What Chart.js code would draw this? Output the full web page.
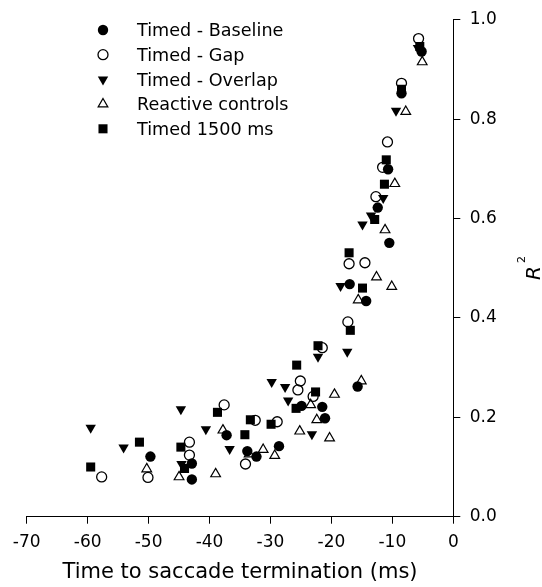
<!DOCTYPE html>
<html>
<head>
<meta charset="utf-8">
<script src="https://cdn.jsdelivr.net/npm/chart.js@4.4.1/dist/chart.umd.min.js"></script>
<style>
html,body{margin:0;padding:0;background:#fff;}
#wrap{width:542px;height:587px;}
</style>
</head>
<body>
<div id="wrap"><canvas id="c" width="542" height="587"></canvas></div>
<script>
// ---- Data ----
const seriesNames = ['Timed - Baseline', 'Timed - Gap', 'Timed - Overlap', 'Reactive controls', 'Timed 1500 ms'];

const baselineX = [-5.2, -8.5, -10.7, -12.4, -10.5, -17.0, -14.3, -15.7, -21.5, -21.05, -24.9, -28.6, -32.3, -33.8, -37.2, -42.9, -42.9, -49.7];
const baselineY = [0.936, 0.852, 0.699, 0.622, 0.551, 0.468, 0.434, 0.262, 0.221, 0.198, 0.223, 0.142, 0.121, 0.132, 0.164, 0.107, 0.075, 0.121];

const gapX = [-5.7, -8.5, -10.8, -11.6, -12.7, -17.1, -14.5, -17.3, -21.5, -25.1, -25.5, -23.0, -28.9, -32.5, -37.6, -34.1, -43.3, -43.3, -50.1, -57.7];
const gapY = [0.962, 0.872, 0.754, 0.703, 0.644, 0.509, 0.511, 0.392, 0.340, 0.273, 0.255, 0.242, 0.191, 0.194, 0.225, 0.106, 0.150, 0.124, 0.079, 0.080];

const overlapX = [-5.8, -9.4, -11.5, -13.5, -14.9, -18.5, -17.4, -22.2, -29.8, -27.6, -27.1, -23.2, -36.7, -40.6, -44.7, -44.6, -54.1, -59.5];
const overlapY = [0.943, 0.817, 0.641, 0.606, 0.588, 0.464, 0.332, 0.322, 0.271, 0.261, 0.234, 0.166, 0.136, 0.176, 0.216, 0.106, 0.139, 0.179];

const reactiveX = [-5.1, -7.8, -9.6, -11.2, -12.6, -10.1, -15.6, -15.1, -19.5, -23.4, -22.4, -25.2, -20.3, -29.3, -31.2, -33.5, -37.8, -39.0, -45.0, -50.3];
const reactiveY = [0.915, 0.815, 0.670, 0.577, 0.482, 0.463, 0.436, 0.273, 0.246, 0.225, 0.195, 0.172, 0.158, 0.123, 0.135, 0.126, 0.174, 0.086, 0.080, 0.096];

const t1500X = [-5.5, -8.5, -11.0, -11.3, -12.9, -17.1, -14.9, -16.9, -22.2, -25.7, -22.6, -25.8, -29.9, -33.3, -34.2, -38.7, -44.7, -44.1, -51.5, -59.5];
const t1500Y = [0.946, 0.860, 0.718, 0.669, 0.598, 0.531, 0.460, 0.375, 0.344, 0.305, 0.251, 0.218, 0.186, 0.195, 0.165, 0.210, 0.140, 0.097, 0.150, 0.100];

const xTicks = [-70, -60, -50, -40, -30, -20, -10, 0];
const yTicks = [0.0, 0.2, 0.4, 0.6, 0.8, 1.0];
const xTitle = 'Time to saccade termination (ms)';

// ---- Build ----
function pts(xs, ys) { return xs.map((x, i) => ({x: x, y: ys[i]})); }

const styles = [
  {pointStyle: 'circle',   radius: 5.2, rotation: 0,   bg: '#000', bw: 0},
  {pointStyle: 'circle',   radius: 5.0, rotation: 0,   bg: 'rgba(0,0,0,0)', bw: 1.3},
  {pointStyle: 'triangle', radius: 6.0, rotation: 180, bg: '#000', bw: 0},
  {pointStyle: 'triangle', radius: 5.6, rotation: 0,   bg: 'rgba(0,0,0,0)', bw: 1.2},
  {pointStyle: 'rect',     radius: 6.4, rotation: 0,   bg: '#000', bw: 0}
];
const seriesData = [pts(baselineX, baselineY), pts(gapX, gapY), pts(overlapX, overlapY), pts(reactiveX, reactiveY), pts(t1500X, t1500Y)];

const datasets = seriesNames.map((name, i) => ({
  label: name,
  data: seriesData[i],
  showLine: false,
  pointStyle: styles[i].pointStyle,
  pointRadius: styles[i].radius,
  pointHoverRadius: styles[i].radius,
  pointRotation: styles[i].rotation,
  pointBackgroundColor: styles[i].bg,
  pointBorderColor: '#000',
  pointBorderWidth: styles[i].bw,
  clip: false
}));

const FONT = 'DejaVu Sans';

function drawMarker(ctx, st, x, y) {
  ctx.save();
  ctx.fillStyle = st.bg;
  ctx.strokeStyle = '#000';
  ctx.lineWidth = st.bw;
  if (Chart.helpers && Chart.helpers.drawPoint) {
    Chart.helpers.drawPoint(ctx, {pointStyle: st.pointStyle, radius: st.radius, rotation: st.rotation, borderWidth: st.bw}, x, y);
  } else {
    ctx.beginPath();
    ctx.arc(x, y, st.radius, 0, Math.PI * 2);
    ctx.fill();
    if (st.bw > 0) ctx.stroke();
  }
  ctx.restore();
}

const extrasPlugin = {
  id: 'extras',
  afterDraw(chart) {
    const ctx = chart.ctx;
    // Legend (inside plot, top-left)
    const mx = 103, tx = 137, y0 = 30, dy = 24.7;
    ctx.save();
    ctx.font = '17.6px "' + FONT + '"';
    ctx.fillStyle = '#000';
    ctx.textAlign = 'left';
    ctx.textBaseline = 'alphabetic';
    seriesNames.forEach((name, i) => {
      const y = y0 + i * dy;
      drawMarker(ctx, styles[i], mx, y);
      ctx.fillStyle = '#000';
      ctx.fillText(name, tx, y + 6.3);
    });
    ctx.restore();
    // Y axis title: italic R with superscript 2, rotated
    ctx.save();
    ctx.translate(540, 280);
    ctx.rotate(-Math.PI / 2);
    ctx.fillStyle = '#000';
    ctx.textAlign = 'left';
    ctx.textBaseline = 'alphabetic';
    ctx.font = 'italic 20px "' + FONT + '"';
    ctx.fillText('R', 0, 0);
    ctx.font = '11px "' + FONT + '"';
    ctx.fillText('2', 17, -15.5);
    ctx.restore();
  }
};

new Chart(document.getElementById('c'), {
  type: 'scatter',
  data: {datasets: datasets},
  plugins: [extrasPlugin],
  options: {
    responsive: false,
    animation: false,
    layout: {padding: {left: 26.7, top: 17.8, right: 0, bottom: 0}},
    plugins: {legend: {display: false}, tooltip: {enabled: false}},
    scales: {
      x: {
        type: 'linear', position: 'bottom',
        min: xTicks[0], max: xTicks[xTicks.length - 1],
        afterBuildTicks: (s) => { s.ticks = xTicks.map(v => ({value: v})); },
        ticks: {color: '#000', font: {family: FONT, size: 17}, padding: 9, maxRotation: 0, autoSkip: false,
                callback: (v) => String(v)},
        grid: {display: true, drawOnChartArea: false, drawTicks: true, tickLength: 7, color: '#000', lineWidth: 1},
        border: {display: true, color: '#000', width: 1},
        title: {display: true, text: xTitle, color: '#000', font: {family: FONT, size: 21}, padding: {top: 0, bottom: 2}},
        afterFit: (s) => { s.height = 70.3; }
      },
      y: {
        type: 'linear', position: 'right',
        min: yTicks[0], max: yTicks[yTicks.length - 1],
        afterBuildTicks: (s) => { s.ticks = yTicks.map(v => ({value: v})); },
        ticks: {color: '#000', font: {family: FONT, size: 17}, padding: 9.5, autoSkip: false,
                callback: (v) => Number(v).toFixed(1)},
        grid: {display: true, drawOnChartArea: false, drawTicks: true, tickLength: 7, color: '#000', lineWidth: 1},
        border: {display: true, color: '#000', width: 1},
        afterFit: (s) => { s.width = 88.7; }
      }
    }
  }
});
</script>
</body>
</html>
